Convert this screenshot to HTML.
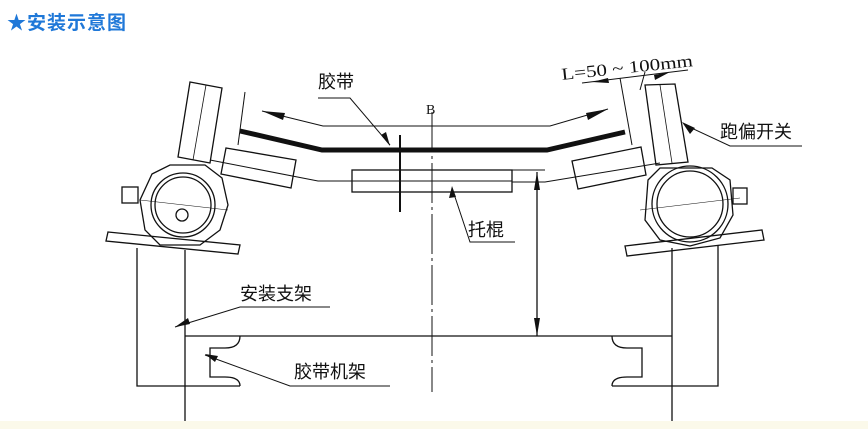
<!DOCTYPE html>
<html><head><meta charset="utf-8"><style>
html,body{margin:0;padding:0;background:#fff;}
body{width:868px;height:429px;overflow:hidden;position:relative;}
.t{position:absolute;left:7px;top:8px;font:bold 19px "Liberation Sans","Noto Sans CJK SC",sans-serif;color:#1f78d8;letter-spacing:1px;}
svg{position:absolute;left:0;top:0;}
text{font-family:"Liberation Serif","Noto Sans CJK SC",serif;fill:#111;}
</style></head><body>
<div class="t">★安装示意图</div>
<svg width="868" height="429" viewBox="0 0 868 429">
<rect x="0" y="421" width="868" height="8" fill="#fbf9ea"/>
<g stroke="#111" stroke-width="1.3" fill="none">
<polyline points="137,248 137,386 185,386"/>
<line x1="185" y1="250" x2="185" y2="421"/>
<line x1="185" y1="336" x2="672" y2="336"/>
<polyline points="718,245 718,386 672,386"/>
<line x1="672" y1="248" x2="672" y2="421"/>
<path d="M240,336 q0,12 -15,12 h-15 v29 h15 q15,0 15,9"/>
<line x1="185" y1="386" x2="240" y2="386"/>
<path d="M612,336 q0,12 15,12 h15 v29 h-15 q-15,0 -15,9"/>
<line x1="612" y1="386" x2="672" y2="386"/>
<line x1="432" y1="112" x2="432" y2="392" stroke-dasharray="40,4,3,4" stroke-width="1"/>
<line x1="537" y1="172" x2="537" y2="336"/>
<line x1="512" y1="170" x2="545" y2="170" stroke-width="1"/>
<rect x="352" y="170" width="160" height="22"/>
<line x1="352" y1="181" x2="512" y2="181" stroke-width="1"/>
<line x1="400" y1="135" x2="400" y2="212" stroke-width="2"/>
<polygon points="226,148 296,160 291,188 221,174"/>
<polygon points="572,161 641,147 646,175 578,189"/>
<polyline points="210,160 318,181 352,181" stroke-width="1"/>
<polyline points="512,182 545,182 660,163" stroke-width="1"/>
<polyline points="240,131 322,150 547,150 625,132" stroke-width="5"/>
<polyline points="262,111 323,126 550,126 608,109" stroke-width="1"/>
<line x1="245" y1="92" x2="238" y2="145" stroke-width="1"/>
<line x1="620" y1="78" x2="632" y2="145" stroke-width="1"/>
<line x1="645" y1="72" x2="640" y2="90" stroke-width="1"/>
<line x1="582" y1="83" x2="688" y2="70" stroke-width="1"/>
<polygon points="190,82 222,88 210,163 178,157"/>
<line x1="206" y1="85" x2="193" y2="160" stroke-width="0.8"/>
<path d="M152,174 L170,165 L205,165 L222,178 L228,205 L220,230 L200,245 L160,245 L145,230 L140,200 Z"/>
<circle cx="183" cy="205" r="32"/>
<circle cx="183" cy="205" r="28"/>
<circle cx="182" cy="215" r="6"/>
<rect x="122" y="187" width="16" height="16"/>
<polygon points="108,232 240,245 238,254 106,241"/>
<line x1="140" y1="200" x2="228" y2="210" stroke-width="0.6"/>
<polygon points="645,85 675,84 688,162 656,165"/>
<line x1="660" y1="85" x2="672" y2="163" stroke-width="0.8"/>
<path d="M648,180 L660,168 L712,168 L730,180 L733,215 L720,238 L690,246 L660,240 L645,220 Z"/>
<circle cx="690" cy="204" r="38"/>
<circle cx="690" cy="204" r="33"/>
<rect x="733" y="188" width="14" height="16"/>
<polygon points="625,246 762,230 764,240 627,256"/>
<line x1="640" y1="210" x2="740" y2="198" stroke-width="0.6"/>
<polyline points="318,98 350,98 390,145" stroke-width="1"/>
<polyline points="802,146 730,146 685,125" stroke-width="1"/>
<polyline points="515,242 470,242 452,188" stroke-width="1"/>
<polyline points="330,307 240,307 175,327" stroke-width="1"/>
<polyline points="390,386 290,386 205,355" stroke-width="1"/>
</g>
<g fill="#111">
<polygon points="262,111 285,113 283,120"/>
<polygon points="608,109 586,113 588,120"/>
<polygon points="537,172 534,190 540,190"/>
<polygon points="537,336 534,318 540,318"/>
<polygon points="390,146 381,135 386,132"/>
<polygon points="682,122 690,134 695,128"/>
<polygon points="452,186 449,198 456,197"/>
<polygon points="175,327 188,318 190,324"/>
<polygon points="205,354 218,356 215,362"/>
<polygon points="592,82 608,78 609,83"/>
<polygon points="670,72 654,75 655,80"/>
</g>
<text x="318" y="88" font-size="18">胶带</text>
<text x="426" y="114" font-size="14">B</text>
<text x="562" y="80" font-size="17" textLength="132" lengthAdjust="spacingAndGlyphs" transform="rotate(-6 562 80)">L=50 ~ 100mm</text>
<text x="720" y="138" font-size="18">跑偏开关</text>
<text x="468" y="236" font-size="18">托棍</text>
<text x="240" y="300" font-size="18">安装支架</text>
<text x="294" y="378" font-size="18">胶带机架</text>
</svg>
</body></html>
